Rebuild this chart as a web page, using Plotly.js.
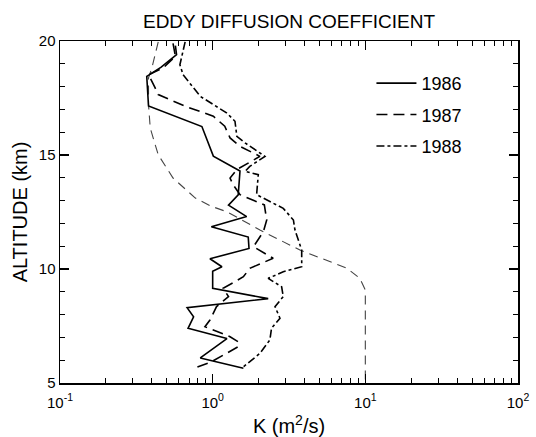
<!DOCTYPE html>
<html>
<head>
<meta charset="utf-8">
<script src="https://cdn.plot.ly/plotly-3.0.1.min.js"></script>
<style>html,body{margin:0;padding:0;background:#fff;}#chart{width:536px;height:437px;}</style>
</head>
<body>
<div id="chart"></div>
<script>
// 1986 (solid)
const alt1986 = [19.8, 19.4, 18.85, 18.45, 17.15, 16.25, 14.95, 14.45, 14.3, 13.25, 12.8, 12.3, 11.85, 11.4, 10.9, 10.45, 10.1, 9.9, 9.15, 8.7, 8.3, 7.9, 7.4, 6.95, 6.1, 5.65];
const k1986   = [0.57, 0.58, 0.46, 0.37, 0.38, 0.85, 1.01, 1.40, 1.51, 1.47, 1.27, 1.67, 0.98, 1.71, 1.73, 0.96, 1.15, 1.0, 1.0, 2.31, 0.68, 0.75, 0.69, 1.24, 0.83, 1.59];
// 1987 (dashed)
const alt1987 = [19.9, 19.33, 18.82, 18.52, 17.94, 17.65, 17.14, 16.7, 16.26, 15.75, 15.38, 14.94, 14.36, 13.99, 13.7, 13.26, 12.81, 12.15, 11.64, 10.98, 10.47, 10.03, 9.66, 9.15, 8.79, 8.35, 7.76, 7.47, 7.03, 6.81, 6.59, 5.93, 5.64];
const k1987   = [0.55, 0.57, 0.475, 0.38, 0.42, 0.44, 0.66, 1.01, 1.20, 1.30, 1.51, 2.04, 1.44, 1.30, 1.36, 1.51, 2.18, 2.26, 2.15, 1.85, 2.49, 1.75, 1.59, 1.17, 1.27, 1.06, 0.96, 0.89, 1.30, 1.47, 1.47, 0.98, 0.75];
// 1988 (dash-dot)
const alt1988 = [19.96, 18.96, 18.52, 17.57, 16.84, 16.48, 15.82, 15.53, 14.94, 14.5, 14.28, 14.14, 13.26, 12.81, 12.66, 12.15, 11.71, 10.83, 10.1, 9.88, 9.59, 9.22, 8.79, 8.35, 7.84, 7.4, 6.89, 6.3, 5.71];
const k1988   = [0.66, 0.61, 0.64, 0.83, 1.24, 1.40, 1.44, 1.63, 2.2, 1.75, 1.63, 1.99, 1.94, 2.62, 2.90, 3.38, 3.46, 3.83, 3.83, 2.90, 2.31, 2.83, 2.90, 2.56, 2.76, 2.43, 2.37, 2.04, 1.59];
// reference profile (thin dashed, unlabeled)
const altRef = [19.96, 18.82, 18.38, 17.21, 16.18, 15.01, 13.99, 13.11, 12.75, 12.51, 11.71, 10.83, 10.03, 9.59, 9.08, 5.0];
const kRef   = [0.44, 0.40, 0.38, 0.38, 0.39, 0.44, 0.55, 0.77, 0.98, 1.24, 2.04, 3.73, 7.6, 9.2, 10.0, 10.0];

const xTickVals = [0.1, 1, 10, 100];
const xTickText = ['10<sup>-1</sup>', '10<sup>0</sup>', '10<sup>1</sup>', '10<sup>2</sup>'];
const yTickVals = [5, 10, 15, 20];

const FONT = 'Liberation Sans, Arial, Helvetica, sans-serif';

const traces = [
  {x: kRef, y: altRef, mode: 'lines', showlegend: false, hoverinfo: 'skip',
   line: {color: '#444', width: 1.1, dash: '9px,6px'}},
  {x: k1986, y: alt1986, mode: 'lines', name: '1986', legendgroup: 'a',
   line: {color: '#000', width: 1.6, dash: 'solid'}},
  {x: k1987, y: alt1987, mode: 'lines', name: '1987', legendgroup: 'b',
   line: {color: '#000', width: 1.6, dash: '11px,6px'}},
  {x: k1988, y: alt1988, mode: 'lines', name: '1988', legendgroup: 'c',
   line: {color: '#000', width: 1.6, dash: '8px,3px,3px,3px'}}
];

const layout = {
  width: 536, height: 437,
  margin: {l: 60, r: 18, t: 41, b: 54},
  paper_bgcolor: '#fff', plot_bgcolor: '#fff',
  font: {family: FONT, color: '#000', size: 15},
  title: {text: 'EDDY DIFFUSION COEFFICIENT', font: {family: FONT, size: 19, color: '#000'},
          xref: 'paper', x: 0.5, xanchor: 'center', yref: 'container', y: 0.952, yanchor: 'middle'},
  xaxis: {
    type: 'log', range: [-1, 2],
    tickvals: xTickVals, ticktext: xTickText,
    ticks: 'inside', ticklen: 9, tickwidth: 1.2, tickcolor: '#000',
    showline: true, linecolor: '#000', linewidth: 1.5, mirror: 'ticks',
    showgrid: false, zeroline: false,
    tickfont: {size: 15}, ticklabelstandoff: 5,
    minor: {ticks: 'inside', ticklen: 5, tickwidth: 1, tickcolor: '#000', dtick: 'D1', showgrid: false},
    title: {text: 'K (m<sup>2</sup>/s)', font: {size: 20}, standoff: 10}
  },
  yaxis: {
    range: [5, 20], tickvals: yTickVals,
    ticks: 'inside', ticklen: 9, tickwidth: 1.2, tickcolor: '#000',
    showline: true, linecolor: '#000', linewidth: 1.5, mirror: 'ticks',
    showgrid: false, zeroline: false,
    tickfont: {size: 15},
    minor: {ticks: 'inside', ticklen: 5, tickwidth: 1, tickcolor: '#000', dtick: 1, showgrid: false},
    title: {text: 'ALTITUDE (km)', font: {size: 20}, standoff: 6}
  },
  legend: {
    x: 0.68, y: 0.93, xanchor: 'left', yanchor: 'top',
    bgcolor: 'rgba(0,0,0,0)', borderwidth: 0,
    font: {size: 18, family: FONT},
    traceorder: 'grouped', tracegroupgap: 5, itemwidth: 40
  },
  showlegend: true
};

Plotly.newPlot('chart', traces, layout, {staticPlot: true, displayModeBar: false});
</script>
</body>
</html>
